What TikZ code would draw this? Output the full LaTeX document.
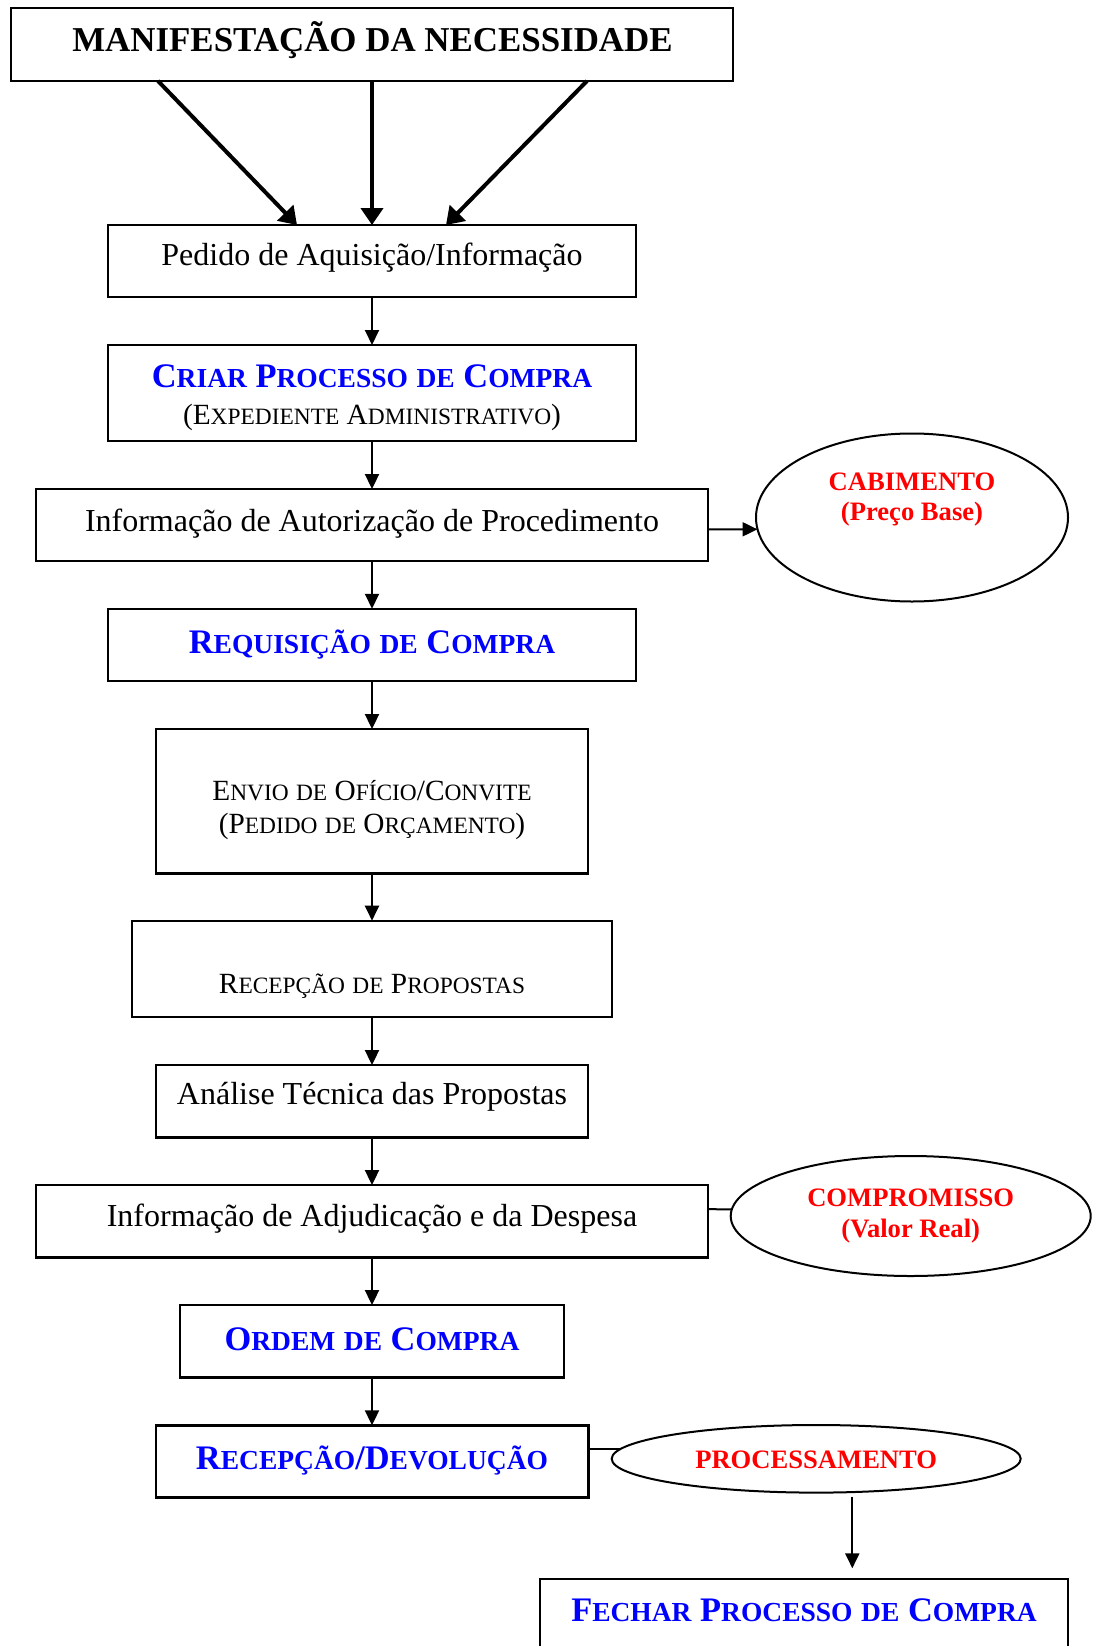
\documentclass[tikz,border=0pt]{standalone}
\usepackage{fontspec}
\setmainfont{Liberation Serif}
\usetikzlibrary{arrows.meta,shapes.geometric,calc}
\definecolor{procblue}{RGB}{0,0,255}
\definecolor{procred}{RGB}{255,0,0}
% hand-made small capitals: first letter at full size, the rest smaller
\newcommand\bsc[2]{#1{\fontsize{27.5}{30}\selectfont #2}}
\newcommand\rsc[2]{#1{\fontsize{23.4}{26}\selectfont #2}}

\begin{document}
\begin{tikzpicture}[x=1pt,y=-1pt,
  box/.style={draw, line width=2.4pt, inner sep=0pt, outer sep=0pt},
  oval/.style={ellipse, draw, line width=2pt, inner sep=0pt, outer sep=0pt},
  lbl/.style={anchor=base, inner sep=0pt},
  plain/.style={lbl, font=\fontsize{32}{36}\selectfont},
  capsreg/.style={lbl, font=\fontsize{29.3}{33}\selectfont},
  bluehead/.style={lbl, text=procblue, font=\fontsize{34.4}{38}\selectfont\bfseries},
  redtag/.style={lbl, text=procred, font=\fontsize{26.6}{30}\selectfont\bfseries},
  flow/.style={line width=2pt, -{Triangle[length=15pt,width=14pt]}},
  bigflow/.style={line width=4pt, -{Triangle[length=17pt,width=22pt]}},
  link/.style={line width=2pt},
]
\fill[white] (0,0) rectangle (1099,1646);
\useasboundingbox (0,0) rectangle (1099,1646);

% ---- boxes (main column centred on x = 372) ----
\node[box, minimum width=722pt, minimum height=72.7pt] (title)   at (372,44.6)   {};
\node[box, minimum width=528.5pt, minimum height=72pt] (pedido)  at (372,261)    {};
\node[box, minimum width=528.5pt, minimum height=96pt] (criar)   at (372,393)    {};
\node[box, minimum width=672pt, minimum height=71.7pt] (autor)   at (372,524.9)  {};
\node[box, minimum width=528pt, minimum height=72.3pt] (requis)  at (372,644.9)  {};
\node[box, minimum width=432pt, minimum height=144.3pt] (envio)  at (372,801.2)  {};
\node[box, minimum width=480.5pt, minimum height=96pt] (recprop) at (372,968.7)  {};
\node[box, minimum width=432pt, minimum height=72.3pt] (analise) at (372,1101.2) {};
\node[box, minimum width=672pt, minimum height=72.3pt] (adjud)   at (372,1221.2) {};
\node[box, minimum width=384pt, minimum height=72.3pt] (ordem)   at (372,1341.2) {};
\node[box, minimum width=432.6pt, minimum height=72pt] (recdev)  at (372,1461.3) {};
\node[box, minimum width=528pt, minimum height=96pt]   (fechar)  at (804,1627)   {};

% ---- ovals ----
\node[oval, minimum width=312pt, minimum height=168pt]  (cab)  at (912,517.5)   {};
\node[oval, minimum width=360pt, minimum height=120pt]  (comp) at (910.7,1216)  {};
\node[oval, minimum width=409pt, minimum height=67.6pt] (proc) at (816.2,1458.8){};

% ---- texts ----
\node[lbl, font=\fontsize{34.9}{40}\selectfont\bfseries] (title-t) at (372.5,51.5) {MANIFESTAÇÃO DA NECESSIDADE};
\node[plain] (pedido-t) at (372,265.7) {Pedido de Aquisição/Informação};
\node[bluehead] (criar-t) at (372,387.7) {\bsc{C}{RIAR} \bsc{P}{ROCESSO} \bsc{}{DE} \bsc{C}{OMPRA}};
\node[capsreg] (criar-s) at (372,424.3) {(\rsc{E}{XPEDIENTE} \rsc{A}{DMINISTRATIVO})};
\node[plain] (autor-t) at (372,531) {Informação de Autorização de Procedimento};
\node[bluehead] (requis-t) at (372,653.3) {\bsc{R}{EQUISIÇÃO} \bsc{}{DE} \bsc{C}{OMPRA}};
\node[capsreg] (envio-t) at (372,800) {\rsc{E}{NVIO} \rsc{}{DE} \rsc{O}{FÍCIO}/\rsc{C}{ONVITE}};
\node[capsreg] (envio-s) at (372,833.3) {(\rsc{P}{EDIDO} \rsc{}{DE} \rsc{O}{RÇAMENTO})};
\node[capsreg] (recprop-t) at (372,993.3) {\rsc{R}{ECEPÇÃO} \rsc{}{DE} \rsc{P}{ROPOSTAS}};
\node[plain] (analise-t) at (372,1104.3) {Análise Técnica das Propostas};
\node[plain] (adjud-t) at (372,1226) {Informação de Adjudicação e da Despesa};
\node[bluehead] (ordem-t) at (372,1350) {\bsc{O}{RDEM} \bsc{}{DE} \bsc{C}{OMPRA}};
\node[bluehead] (recdev-t) at (372,1469.3) {\bsc{R}{ECEPÇÃO}/\bsc{D}{EVOLUÇÃO}};
\node[bluehead] (fechar-t) at (804,1621.7) {\bsc{F}{ECHAR} \bsc{P}{ROCESSO} \bsc{}{DE} \bsc{C}{OMPRA}};
\node[redtag] (cab-t) at (912,490) {CABIMENTO};
\node[redtag] (cab-s) at (912,520) {(Preço Base)};
\node[redtag] (comp-t) at (910.7,1206) {COMPROMISSO};
\node[redtag] (comp-s) at (910.7,1237.3) {(Valor Real)};
\node[redtag] (proc-t) at (816.2,1468.3) {PROCESSAMENTO};

% ---- connectors ----
\draw[bigflow] ($(title.south)+(-214,0)$) -- ($(pedido.north)+(-75,0)$);
\draw[bigflow] (title.south) -- (pedido.north);
\draw[bigflow] ($(title.south)+(215,0)$) -- ($(pedido.north)+(74,0)$);

\draw[flow] (pedido.south) -- (criar.north);
\draw[flow] (criar.south) -- (autor.north);
\draw[flow] (autor.south) -- (requis.north);
\draw[flow] (requis.south) -- (envio.north);
\draw[flow] (envio.south) -- (recprop.north);
\draw[flow] (recprop.south) -- (analise.north);
\draw[flow] (analise.south) -- (adjud.north);
\draw[flow] (adjud.south) -- (ordem.north);
\draw[flow] (ordem.south) -- (recdev.north);

\draw[flow] ($(autor.east)+(0,4.4)$) -- ($(cab.center)+(-154.5,11.8)$);
\draw[link] ($(adjud.east)+(0,-12)$) -- ($(comp.center)+(-178.9,-6.7)$);
\draw[link] ($(recdev.east)+(0,-12.3)$) -- ($(proc.center)+(-195.7,-9.8)$);

\coordinate (procout) at ($(proc.south)+(36.1,4)$);
\coordinate (fechin) at ($(fechar.north)+(48.3,-10.7)$);
\draw[flow] (procout) -- (fechin);
\end{tikzpicture}
\end{document}
